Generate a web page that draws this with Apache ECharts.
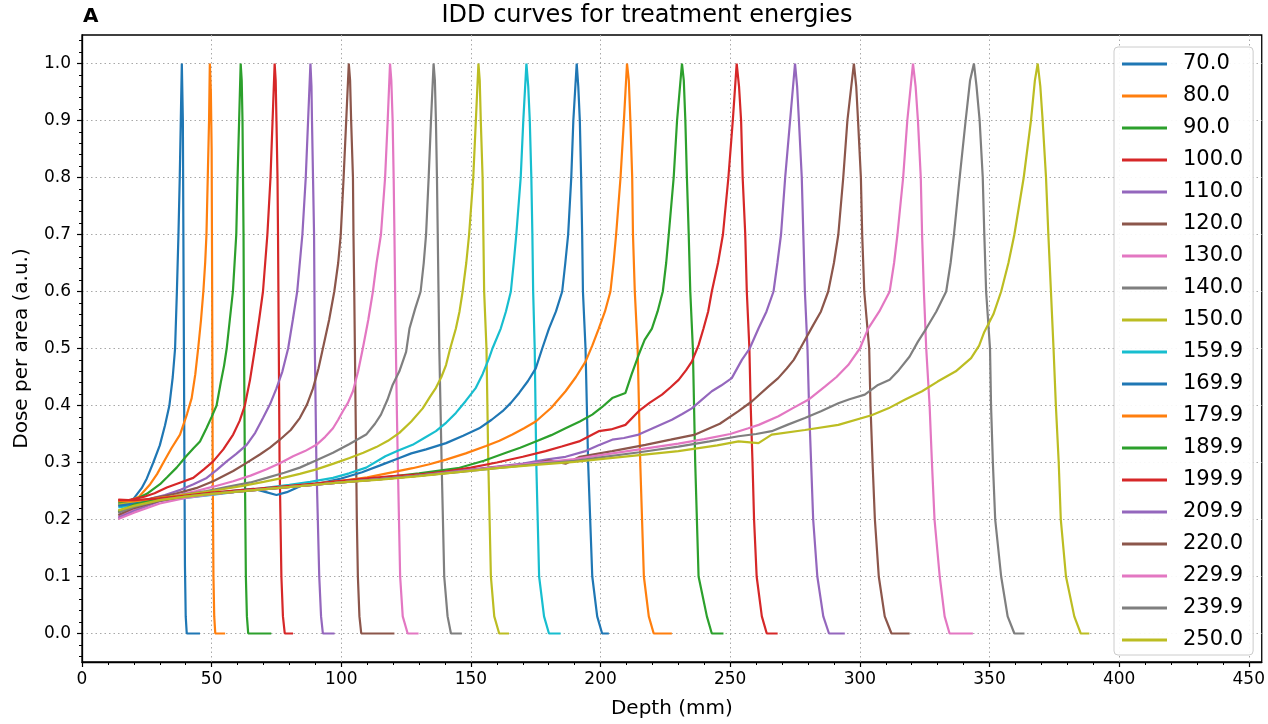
<!DOCTYPE html>
<html>
<head>
<meta charset="utf-8">
<script src="https://cdn.jsdelivr.net/npm/echarts@6/dist/echarts.min.js"></script>
<style>
html,body{margin:0;padding:0;background:#fff;}
#chart{width:1268px;height:724px;}
</style>
</head>
<body>
<div id="chart"></div>
<script>
// ---- data (depth in mm, normalised dose per area) ----
const energies = ['70.0','80.0','90.0','100.0','110.0','120.0','130.0','140.0','150.0','159.9','169.9','179.9','189.9','199.9','209.9','220.0','229.9','239.9','250.0'];

const idd70 = [[14,0.228],[17,0.23],[20,0.237],[23,0.255],[25,0.272],[27.5,0.3],[30,0.33],[32,0.365],[33.7,0.4],[35,0.45],[35.9,0.5],[36.6,0.6],[37.2,0.7],[37.7,0.8],[38.1,0.9],[38.5,1.0],[38.9,0.9],[39.1,0.7],[39.3,0.5],[39.5,0.3],[39.7,0.12],[40,0.03],[40.4,0],[45.5,0]];
const idd80 = [[14,0.233],[18,0.232],[22,0.24],[26.3,0.262],[29,0.28],[31.4,0.3],[34.5,0.325],[37.8,0.349],[40.5,0.385],[42.3,0.413],[43.7,0.455],[44.8,0.5],[45.9,0.55],[46.8,0.6],[47.5,0.65],[48,0.7],[48.5,0.8],[49,0.9],[49.3,1.0],[49.7,0.95],[50,0.85],[50.2,0.6],[50.4,0.3],[50.7,0.1],[51,0.03],[51.4,0],[55.2,0]];
const idd90 = [[14,0.23],[20,0.234],[25,0.245],[30.1,0.262],[33,0.275],[36.5,0.291],[40,0.31],[43,0.325],[45.5,0.337],[48,0.36],[50,0.38],[51.9,0.4],[53.5,0.44],[54.8,0.47],[55.8,0.5],[57,0.55],[58.2,0.6],[59.5,0.7],[60,0.8],[60.6,0.9],[61.2,1.0],[61.6,0.97],[61.9,0.9],[62.3,0.7],[62.5,0.5],[62.8,0.3],[63.2,0.1],[63.6,0.03],[64.1,0],[73,0]];
const idd100 = [[14,0.235],[18,0.234],[24,0.24],[28,0.246],[32.7,0.256],[38,0.265],[42.9,0.273],[47,0.288],[50.6,0.302],[54.5,0.323],[58.3,0.349],[60.8,0.373],[62.8,0.4],[64.8,0.445],[66.7,0.5],[68.3,0.55],[69.8,0.6],[71.5,0.7],[72.7,0.8],[73.5,0.9],[74.3,1.0],[74.7,0.97],[75,0.9],[75.4,0.8],[75.6,0.7],[75.9,0.5],[76.2,0.3],[76.9,0.1],[77.5,0.03],[78.2,0],[81.4,0]];
const idd110 = [[14,0.212],[18,0.222],[25,0.235],[32,0.243],[38,0.252],[43,0.262],[48.1,0.273],[52,0.287],[55.8,0.302],[59.5,0.315],[63.5,0.331],[66.8,0.352],[69.8,0.378],[72.5,0.402],[75,0.43],[77.3,0.46],[79.5,0.5],[81.3,0.55],[83,0.6],[85,0.7],[86.3,0.8],[87.2,0.9],[88.1,1.0],[88.5,0.96],[88.7,0.9],[89.1,0.8],[89.5,0.7],[89.8,0.5],[90.4,0.3],[91.5,0.1],[92.2,0.03],[92.9,0],[97.4,0]];
const idd120 = [[14,0.225],[20,0.228],[28,0.238],[36,0.245],[44,0.255],[50.6,0.267],[58.3,0.285],[63,0.298],[68.6,0.314],[72.5,0.326],[76.3,0.34],[80.5,0.357],[84,0.378],[86.8,0.402],[89.1,0.43],[91.2,0.465],[92.9,0.5],[95.3,0.55],[97.3,0.6],[98.8,0.65],[99.8,0.7],[100.9,0.8],[101.9,0.9],[102.9,1.0],[103.4,0.97],[103.8,0.9],[104.5,0.8],[104.7,0.7],[105,0.6],[105.5,0.4],[106,0.2],[106.4,0.1],[107,0.03],[107.7,0],[120.5,0]];
const idd130 = [[14,0.205],[20,0.218],[28,0.232],[36,0.242],[44,0.25],[51,0.258],[58.3,0.267],[65,0.277],[71.2,0.288],[76.5,0.299],[81.4,0.311],[86,0.32],[90.4,0.331],[93.8,0.345],[96.8,0.36],[98.8,0.375],[100.6,0.39],[102.6,0.405],[104.5,0.425],[106.5,0.46],[108.3,0.5],[110.4,0.55],[112.2,0.6],[113.6,0.65],[115.3,0.7],[116.9,0.8],[117.9,0.9],[118.8,1.0],[119.3,0.97],[119.8,0.9],[120.2,0.8],[120.5,0.7],[120.9,0.55],[121.4,0.4],[121.8,0.3],[122.7,0.1],[123.7,0.03],[125.6,0],[129.8,0]];
const idd140 = [[14,0.215],[20,0.225],[28,0.235],[38,0.243],[48,0.25],[58,0.259],[65,0.265],[71.2,0.273],[78,0.282],[84,0.291],[90,0.303],[96.8,0.317],[103,0.332],[109.6,0.349],[113,0.368],[115.3,0.384],[117.8,0.41],[119.8,0.436],[122.4,0.46],[125,0.494],[126.3,0.535],[128.5,0.57],[130.6,0.6],[131.8,0.65],[132.7,0.7],[133.7,0.8],[134.6,0.9],[135.6,1.0],[136.1,0.97],[136.5,0.9],[136.9,0.8],[137.2,0.7],[137.5,0.6],[137.8,0.5],[138.7,0.3],[139.7,0.1],[141,0.03],[142.3,0],[146.5,0]];
const idd150 = [[14,0.226],[20,0.23],[28,0.236],[38,0.243],[50,0.25],[62,0.259],[70,0.266],[77.5,0.273],[84,0.28],[90.4,0.288],[97,0.298],[103.2,0.308],[108.5,0.317],[113.5,0.327],[118,0.338],[122.4,0.352],[127,0.372],[131.4,0.395],[134.2,0.415],[136.5,0.431],[138.6,0.45],[140.4,0.471],[142,0.5],[144.2,0.535],[145.6,0.565],[146.8,0.6],[148.2,0.65],[149.3,0.7],[150.9,0.8],[151.9,0.9],[152.9,1.0],[153.4,0.97],[153.8,0.9],[154.5,0.8],[154.8,0.7],[155.1,0.6],[156,0.5],[156.7,0.3],[157.7,0.1],[159,0.03],[160.9,0],[164.7,0]];
const idd159 = [[14,0.221],[20,0.225],[30,0.233],[40,0.238],[50,0.243],[60,0.249],[70,0.255],[80,0.261],[88,0.266],[96.8,0.273],[103,0.281],[109.6,0.291],[117,0.311],[122,0.321],[127.5,0.331],[132,0.343],[136.5,0.355],[140.5,0.37],[144.2,0.387],[148,0.408],[151.9,0.431],[154.5,0.455],[157,0.483],[158.3,0.5],[161.5,0.535],[163.5,0.565],[165.4,0.6],[166.5,0.65],[167.5,0.7],[169.2,0.8],[170.2,0.9],[171.4,1.0],[172.1,0.96],[172.7,0.9],[173.3,0.8],[173.7,0.7],[174,0.6],[174.6,0.5],[175.2,0.3],[176.3,0.1],[178.2,0.03],[180.1,0],[184.6,0]];
const idd169 = [[14,0.224],[20,0.228],[30,0.234],[40,0.24],[50,0.246],[60,0.251],[66,0.254],[71,0.248],[75,0.243],[79,0.248],[85,0.26],[92,0.264],[100,0.272],[108,0.283],[115,0.295],[122.4,0.308],[127,0.316],[132.7,0.323],[140.4,0.334],[147,0.347],[153.2,0.36],[158,0.375],[162.2,0.39],[165.5,0.405],[168.6,0.422],[172,0.443],[175,0.465],[177.5,0.5],[180.1,0.535],[182.8,0.565],[185.2,0.6],[186.4,0.65],[187.5,0.7],[188.7,0.8],[189.5,0.9],[190.8,1.0],[191.4,0.96],[192,0.9],[192.5,0.8],[192.9,0.7],[193.2,0.6],[194.2,0.5],[195.2,0.3],[196.8,0.1],[198.7,0.03],[200.6,0],[203.2,0]];
const idd179 = [[14,0.232],[20,0.232],[30,0.238],[40,0.242],[50,0.246],[60,0.25],[75,0.256],[90,0.263],[100,0.268],[110,0.274],[120,0.283],[127.5,0.29],[134,0.297],[140.4,0.305],[148,0.316],[155.8,0.329],[161,0.338],[166,0.349],[170.5,0.36],[175,0.372],[181,0.396],[186.5,0.425],[190.5,0.45],[194.2,0.477],[196.8,0.505],[199.3,0.535],[201.7,0.565],[203.8,0.6],[205,0.65],[206,0.7],[207.7,0.8],[209,0.9],[210.2,1.0],[210.9,0.97],[211.5,0.9],[212.2,0.8],[212.5,0.7],[213.2,0.6],[214.3,0.5],[215.3,0.3],[216.7,0.1],[218.6,0.03],[220.5,0],[227.5,0]];
const idd189 = [[14,0.213],[20,0.226],[30,0.236],[40,0.241],[50,0.246],[60,0.25],[75,0.256],[90,0.262],[100,0.266],[115,0.273],[130,0.281],[145,0.29],[155,0.303],[163.5,0.317],[169,0.326],[175,0.337],[181,0.348],[186.5,0.36],[192,0.372],[196.8,0.384],[200.5,0.397],[204.5,0.413],[209.6,0.422],[212,0.455],[214.7,0.489],[217,0.515],[219.8,0.535],[222,0.565],[224,0.6],[225.3,0.65],[226.3,0.7],[228.2,0.8],[229.5,0.9],[231.4,1.0],[232.1,0.97],[232.7,0.9],[233.3,0.8],[234,0.7],[234.6,0.6],[235.6,0.5],[236.5,0.3],[237.8,0.1],[241,0.03],[242.9,0],[247.4,0]];
const idd199 = [[14,0.234],[20,0.234],[30,0.237],[40,0.242],[50,0.247],[60,0.251],[75,0.257],[90,0.263],[100,0.268],[110,0.272],[120,0.276],[130,0.279],[140,0.284],[150,0.291],[160,0.3],[170,0.31],[178.8,0.32],[185,0.328],[191.7,0.337],[199.3,0.355],[204,0.358],[209.6,0.366],[214.7,0.39],[219,0.405],[223.7,0.419],[227,0.432],[230.1,0.445],[233,0.462],[235.2,0.477],[237.8,0.506],[239.7,0.535],[241.5,0.565],[242.9,0.6],[245.3,0.65],[247.2,0.7],[249.3,0.8],[251,0.9],[252.5,1.0],[253.4,0.96],[254.2,0.9],[254.8,0.8],[255.8,0.7],[256.4,0.6],[257.4,0.5],[257.9,0.4],[258.6,0.3],[259.2,0.2],[260.2,0.1],[262.2,0.03],[264.1,0],[268.3,0]];
const idd209 = [[14,0.203],[20,0.215],[30,0.232],[40,0.24],[50,0.245],[60,0.249],[75,0.255],[90,0.261],[100,0.265],[115,0.271],[130,0.277],[145,0.285],[160,0.293],[170,0.298],[178.8,0.305],[186.5,0.31],[194.2,0.32],[199,0.33],[204.5,0.34],[209,0.343],[214.7,0.349],[221,0.362],[227.5,0.375],[231.5,0.385],[235.2,0.395],[239,0.41],[242.9,0.425],[246.5,0.435],[250.6,0.448],[254.5,0.48],[257.5,0.5],[260.9,0.535],[264,0.565],[266.7,0.6],[268.2,0.65],[269.6,0.7],[271.2,0.8],[273.1,0.9],[275,1.0],[275.8,0.96],[276.5,0.9],[277.6,0.8],[278.2,0.7],[278.8,0.6],[279.8,0.5],[280.4,0.4],[281.2,0.3],[282,0.2],[283.6,0.1],[285.9,0.03],[288.1,0],[294.2,0]];
const idd220 = [[14,0.208],[20,0.22],[30,0.233],[40,0.24],[50,0.245],[60,0.249],[75,0.255],[90,0.261],[100,0.265],[115,0.271],[130,0.277],[145,0.284],[160,0.292],[175,0.298],[180,0.304],[186.5,0.298],[192,0.31],[204.5,0.32],[217.3,0.331],[227,0.34],[236.5,0.349],[246,0.368],[253.2,0.39],[258.3,0.407],[264.7,0.433],[268.5,0.448],[271.8,0.465],[274.5,0.48],[277,0.5],[282,0.541],[285,0.565],[287.8,0.6],[290,0.65],[291.7,0.7],[293.6,0.8],[295.2,0.9],[297.7,1.0],[298.6,0.96],[299.3,0.9],[300.4,0.8],[300.9,0.7],[301.7,0.6],[303.6,0.5],[304.1,0.4],[304.9,0.3],[305.8,0.2],[307.3,0.1],[309.6,0.03],[312.2,0],[319.2,0]];
const idd229 = [[14,0.201],[20,0.212],[30,0.228],[40,0.238],[50,0.244],[60,0.249],[75,0.255],[90,0.261],[100,0.265],[115,0.271],[130,0.277],[145,0.284],[160,0.292],[175,0.299],[190,0.306],[200,0.313],[215,0.323],[230,0.333],[240,0.341],[250,0.35],[257,0.36],[261,0.366],[268.6,0.381],[274,0.395],[280.1,0.41],[286.5,0.433],[291,0.45],[295.5,0.471],[300,0.5],[303.2,0.535],[307.5,0.565],[311.5,0.6],[313.2,0.65],[314.5,0.7],[316.7,0.8],[318.3,0.9],[320.5,1.0],[321.5,0.96],[322.4,0.9],[323.5,0.8],[324,0.7],[324.7,0.6],[325.6,0.5],[326.9,0.4],[327.8,0.3],[328.8,0.2],[330.8,0.1],[332.7,0.03],[334.6,0],[343.6,0]];
const idd239 = [[14,0.212],[20,0.222],[30,0.234],[40,0.24],[50,0.245],[60,0.249],[75,0.255],[90,0.261],[100,0.265],[115,0.271],[130,0.277],[145,0.283],[160,0.29],[175,0.297],[190,0.303],[200,0.309],[215,0.318],[230,0.328],[242,0.337],[253.2,0.346],[260,0.35],[266,0.355],[272,0.366],[278.8,0.378],[285,0.39],[291.7,0.404],[296,0.411],[301.9,0.419],[307,0.436],[311.5,0.445],[315,0.462],[319.2,0.486],[322.4,0.512],[325.6,0.535],[329.5,0.565],[333.3,0.6],[335,0.65],[336.3,0.7],[338.5,0.8],[340.8,0.9],[342.5,0.97],[344,1.0],[345,0.96],[346.2,0.9],[347.4,0.8],[348,0.7],[348.7,0.6],[350.2,0.5],[350.6,0.4],[351.3,0.3],[352.2,0.2],[354.5,0.1],[357,0.03],[359.6,0],[363.5,0]];
const idd250 = [[14,0.216],[20,0.224],[30,0.234],[40,0.24],[50,0.245],[60,0.249],[75,0.255],[90,0.261],[100,0.265],[115,0.27],[130,0.276],[145,0.283],[160,0.29],[175,0.296],[190,0.301],[200,0.306],[215,0.313],[230,0.32],[245,0.33],[253.2,0.337],[260.9,0.334],[266,0.349],[278.8,0.357],[291.7,0.366],[304.5,0.383],[311,0.395],[317.3,0.41],[324,0.425],[330,0.442],[337,0.46],[342.9,0.483],[346,0.505],[348,0.529],[351.5,0.56],[354.5,0.6],[357.3,0.65],[359.6,0.7],[363.2,0.8],[366,0.9],[367.5,0.97],[368.6,1.0],[369.6,0.96],[370.5,0.9],[371.8,0.8],[372.7,0.7],[373.7,0.6],[374.7,0.5],[375.6,0.4],[376.7,0.3],[377.5,0.2],[379.5,0.1],[382.7,0.03],[385.2,0],[388.5,0]];

const curves = [idd70, idd80, idd90, idd100, idd110, idd120, idd130, idd140, idd150, idd159, idd169, idd179, idd189, idd199, idd209, idd220, idd229, idd239, idd250];

// tick values
const xMajorTicks = [0, 50, 100, 150, 200, 250, 300, 350, 400, 450];
const yMajorTicks = [0, 0.1, 0.2, 0.3, 0.4, 0.5, 0.6, 0.7, 0.8, 0.9, 1.0];

// ---- styling ----
const palette = ['#1f77b4','#ff7f0e','#2ca02c','#d62728','#9467bd','#8c564b','#e377c2','#7f7f7f','#bcbd22','#17becf'];
const FONT = 'DejaVu Sans';

const xMinorTicks = [];
for (let v = 0; v <= 450; v += 10) if (v % 50 !== 0) xMinorTicks.push(v);
const yMinorTicks = [];
for (let k = -2; k <= 52; k++) { if (k % 5 !== 0) yMinorTicks.push(Math.round(k * 2) / 100); }

const chart = echarts.init(document.getElementById('chart'), null, {renderer: 'canvas'});

const option = {
  animation: false,
  backgroundColor: '#fff',
  grid: {left: 82, right: 3, top: 35, bottom: 59, show: true, borderColor: '#000', borderWidth: 1.3, backgroundColor: 'transparent', containLabel: false},
  graphic: [
    {type: 'text', left: 83, top: 7, style: {text: 'A', font: 'bold 20px "DejaVu Sans"', fill: '#000'}},
    {type: 'text', x: 647, y: 4, style: {text: 'IDD curves for treatment energies', font: '24px "DejaVu Sans"', fill: '#000', textAlign: 'center', textVerticalAlign: 'top'}}
  ],
  xAxis: [
    {
      type: 'value', min: 0, max: 455, position: 'bottom',
      name: 'Depth (mm)', nameLocation: 'middle', nameGap: 37,
      nameTextStyle: {fontSize: 20, fontFamily: FONT, color: '#000'},
      axisLine: {show: true, onZero: false, lineStyle: {color: '#000', width: 1.3}},
      axisTick: {show: true, inside: false, length: 5, customValues: xMajorTicks, lineStyle: {color: '#000', width: 1.2}},
      axisLabel: {show: true, customValues: xMajorTicks, fontSize: 17, fontFamily: FONT, color: '#000', margin: 9},
      splitLine: {show: true, lineStyle: {type: [1.5, 3], color: '#a8a8a8', width: 1}}
    },
    {
      type: 'value', min: 0, max: 455, position: 'bottom',
      axisLine: {show: false, onZero: false},
      axisTick: {show: true, inside: false, length: 3, customValues: xMinorTicks, lineStyle: {color: '#000', width: 1}},
      axisLabel: {show: false},
      splitLine: {show: false}
    }
  ],
  yAxis: [
    {
      type: 'value', min: -0.05, max: 1.05, position: 'left',
      name: 'Dose per area (a.u.)', nameLocation: 'middle', nameGap: 50,
      nameTextStyle: {fontSize: 20, fontFamily: FONT, color: '#000'},
      axisLine: {show: true, onZero: false, lineStyle: {color: '#000', width: 1.3}},
      axisTick: {show: true, inside: false, length: 5, customValues: yMajorTicks, lineStyle: {color: '#000', width: 1.2}},
      axisLabel: {show: true, customValues: yMajorTicks, fontSize: 17, fontFamily: FONT, color: '#000', margin: 11, formatter: v => v.toFixed(1)},
      splitLine: {show: true, lineStyle: {type: [1.5, 3], color: '#a8a8a8', width: 1}}
    },
    {
      type: 'value', min: -0.05, max: 1.05, position: 'left', offset: 0,
      axisLine: {show: false, onZero: false},
      axisTick: {show: true, inside: false, length: 3, customValues: yMinorTicks, lineStyle: {color: '#000', width: 1}},
      axisLabel: {show: false},
      splitLine: {show: false}
    }
  ],
  legend: {
    orient: 'vertical', left: 1114, top: 47,
    padding: [5, 10, 3, 8], itemGap: 8, itemWidth: 45, itemHeight: 3,
    icon: 'rect',
    backgroundColor: 'rgba(255,255,255,0.92)', borderColor: '#cccccc', borderWidth: 1, borderRadius: 4,
    textStyle: {fontSize: 21, fontFamily: FONT, color: '#000', lineHeight: 24, padding: [0, 0, 0, 11]},
    data: energies
  },
  series: energies.map((name, i) => ({
    type: 'line', name: name, data: curves[i],
    xAxisIndex: 0, yAxisIndex: 0,
    symbol: 'none', showSymbol: false, smooth: false,
    lineStyle: {width: 2.2, color: palette[i % 10]},
    itemStyle: {color: palette[i % 10]},
    emphasis: {disabled: true}
  }))
};

chart.setOption(option);
</script>
</body>
</html>
